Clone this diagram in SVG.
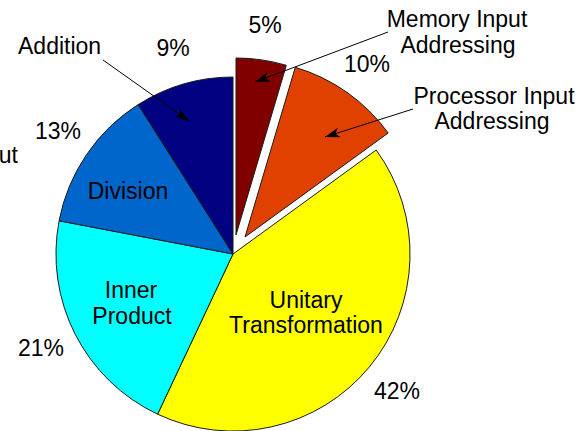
<svg xmlns="http://www.w3.org/2000/svg" width="579" height="431" viewBox="0 0 579 431">
<style>
.s{stroke:#1a1a1a;stroke-width:1}
.t{font-family:"Liberation Sans",Arial,sans-serif;font-size:23px;fill:#000}
.m{text-anchor:middle}
.c{stroke:#000;stroke-width:1;fill:none}
</style>
<defs>
<marker id="ah" markerUnits="userSpaceOnUse" markerWidth="16" markerHeight="12" refX="15" refY="5" orient="auto">
<path d="M0,0 L15,5 L0,10 L4,5 Z" fill="#000"/>
</marker>
</defs>
<rect width="579" height="431" fill="#fff"/>
<g id="unitary"><path class="s" fill="#FFFF00" d="M233,254 L376.2,150 A177,177 0 0 1 157.6,414.2 Z"/></g>
<g id="inner-product"><path class="s" fill="#00FFFF" d="M233,254 L157.6,414.2 A177,177 0 0 1 59.1,220.8 Z"/></g>
<g id="division"><path class="s" fill="#0066CC" d="M233,254 L59.1,220.8 A177,177 0 0 1 138.2,104.6 Z"/></g>
<g id="addition"><path class="s" fill="#000080" d="M233,254 L138.2,104.6 A177,177 0 0 1 233,77 Z"/></g>
<g id="memory"><path class="s" fill="#800000" d="M236,235 L236,58 A177,177 0 0 1 286.3,65.3 Z"/></g>
<g id="processor"><path class="s" fill="#E04000" d="M245,237 L295.3,67.3 A177,177 0 0 1 388.2,133 Z"/></g>
<g id="connectors">
<line class="c" x1="103" y1="60" x2="189" y2="121" marker-end="url(#ah)"/>
<line class="c" x1="388" y1="32" x2="255" y2="82" marker-end="url(#ah)"/>
<line class="c" x1="413" y1="109" x2="325" y2="137" marker-end="url(#ah)"/>
</g>
<g id="labels">
<text class="t" x="18" y="54">Addition</text>
<text class="t m" x="173" y="56">9%</text>
<text class="t m" x="265" y="33">5%</text>
<text class="t m" x="457" y="27">Memory Input</text>
<text class="t m" x="458" y="53">Addressing</text>
<text class="t m" x="367" y="72">10%</text>
<text class="t m" x="494" y="104">Processor Input</text>
<text class="t m" x="492" y="129">Addressing</text>
<text class="t m" x="58" y="139">13%</text>
<text class="t" x="18" y="163" text-anchor="end">ut</text>
<text class="t m" x="128" y="199">Division</text>
<text class="t m" x="131" y="298">Inner</text>
<text class="t m" x="132" y="324">Product</text>
<text class="t m" x="41" y="356">21%</text>
<text class="t m" x="306" y="308">Unitary</text>
<text class="t m" x="306" y="333">Transformation</text>
<text class="t m" x="397" y="399">42%</text>
</g>
</svg>
